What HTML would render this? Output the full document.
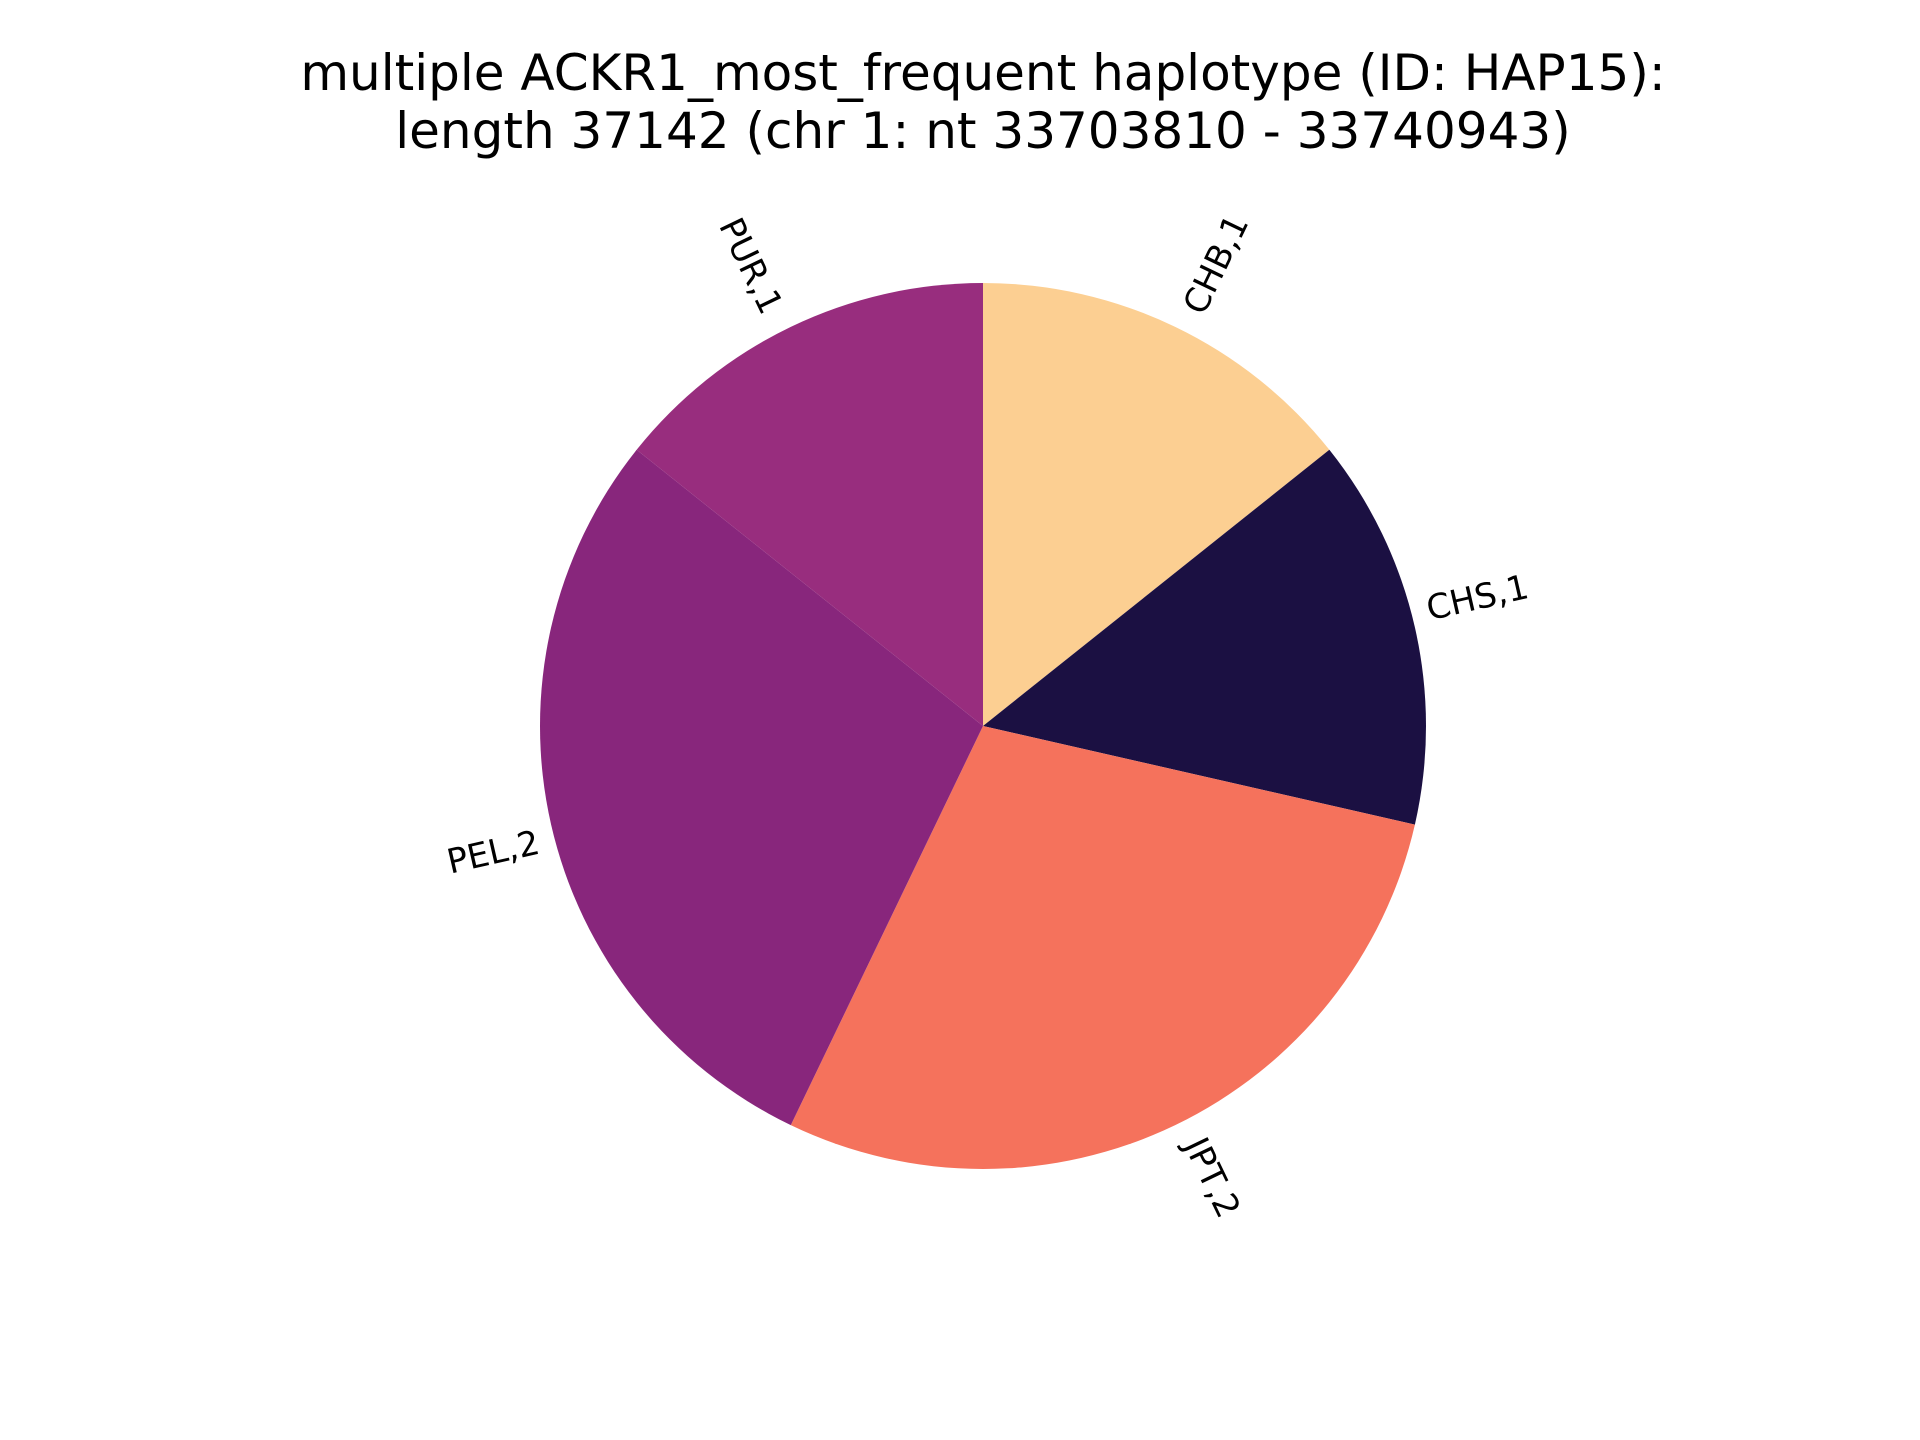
<!DOCTYPE html>
<html><head><meta charset="utf-8"><style>
html,body{margin:0;padding:0;background:#fff;}
svg{display:block;font-family:"DejaVu Sans","Liberation Sans",sans-serif;}
</style></head><body>
<svg id="chart" width="1920" height="1440" viewBox="0 0 1920 1440" xmlns="http://www.w3.org/2000/svg">
<rect width="1920" height="1440" fill="#fff"/>
<text x="983" y="90" font-size="50" text-anchor="middle" fill="#000">multiple ACKR1_most_frequent haplotype (ID: HAP15):</text>
<text x="983" y="148" font-size="50" text-anchor="middle" fill="#000">length 37142 (chr 1: nt 33703810 - 33740943)</text>
<g id="slices"></g>
<g id="labels"></g>
</svg>
<script>
const categories = ["CHB","CHS","JPT","PEL","PUR"];
const values = [1,1,2,2,1];
const colors = ["#fccf92","#1b1042","#f5725c","#88267c","#982d7e"];
const cx = 983, cy = 726, R = 443;
const FS = 34;
const NS = "http://www.w3.org/2000/svg";
const total = values.reduce((a,b)=>a+b,0);
const gS = document.getElementById("slices"), gL = document.getElementById("labels");
let ang = 90;
function pt(deg, r){ const a = deg*Math.PI/180; return [cx + r*Math.cos(a), cy - r*Math.sin(a)]; }
categories.forEach((c,i)=>{
  const sweep = values[i]/total*360;
  const a0 = ang, a1 = ang - sweep;
  const p0 = pt(a0,R), p1 = pt(a1,R);
  const large = sweep>180?1:0;
  const path = document.createElementNS(NS,"path");
  path.setAttribute("d",`M${cx},${cy} L${p0[0]},${p0[1]} A${R},${R} 0 ${large} 1 ${p1[0]},${p1[1]} Z`);
  path.setAttribute("fill",colors[i]);
  
  
  gS.appendChild(path);
  const mid = (a0+a1)/2;
  const [ax,ay] = pt(mid, R*1.02);
  const xt = Math.cos(mid*Math.PI/180), yt = Math.sin(mid*Math.PI/180);
  const rot = mid + (xt>0?0:180);
  const t = document.createElementNS(NS,"text");
  t.setAttribute("font-size",FS);
  t.setAttribute("text-anchor","middle");
  t.setAttribute("dominant-baseline","central");
  t.textContent = c + "," + values[i];
  
  
  gL.appendChild(t);
  const w = t.getComputedTextLength();
  const h = FS*0.95;
  const r = rot*Math.PI/180;
  const W = Math.abs(w*Math.cos(r)) + Math.abs(h*Math.sin(r));
  const H = Math.abs(w*Math.sin(r)) + Math.abs(h*Math.cos(r));
  const tx = ax + (xt>0 ? W/2 : -W/2);
  const ty = ay + (yt>0 ? -H/2 : H/2);
  t.setAttribute("x",tx); t.setAttribute("y",ty);
  t.setAttribute("transform",`rotate(${-rot} ${tx} ${ty})`);
  ang = a1;
});
</script>
</body></html>
